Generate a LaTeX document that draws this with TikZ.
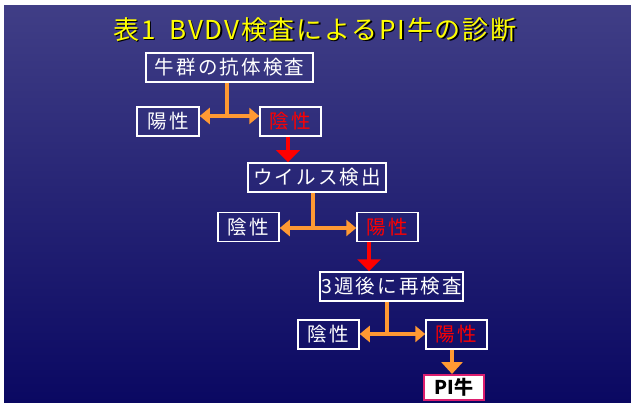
\documentclass[tikz,border=0pt]{standalone}
\usepackage{fontspec}
\setmainfont{Noto Sans CJK JP}
\newfontfamily\jpbox[LetterSpace=11]{Noto Sans CJK JP}
\newfontfamily\jptitle[LetterSpace=7]{Noto Sans CJK JP}
\usetikzlibrary{arrows.meta}
\definecolor{bgtop}{RGB}{64,62,134}
\definecolor{bgbot}{RGB}{10,8,98}
\definecolor{orarrow}{RGB}{255,153,51}
\definecolor{piborder}{RGB}{220,30,110}
\definecolor{titleyellow}{RGB}{255,255,0}
\tikzset{
  box/.style={draw=white, line width=1.5pt, inner sep=0pt, minimum height=29pt,
    text=white, font=\jpbox\fontsize{19.5}{19.5}\selectfont},
  redtext/.style={text=red},
  oline/.style={draw=orarrow, line width=3.5pt},
  oarrow/.style={oline, -{Triangle[width=16pt,length=10pt]}},
  obigarrow/.style={oline, -{Triangle[width=21pt,length=12pt]}},
  rarrow/.style={draw=red, line width=3.5pt, -{Triangle[width=23pt,length=12pt]}},
  titletext/.style={font=\jptitle\fontsize{26}{26}\selectfont, inner sep=0pt}
}
\begin{document}
\begin{tikzpicture}[x=1pt,y=-1pt]
\useasboundingbox (0,0) rectangle (631,403);
\fill[white] (0,0) rectangle (631,403);
\shade[top color=bgtop,bottom color=bgbot] (4,6) rectangle (631,402);

% title
\node[titletext, text=black] (titleshadow) at (316.5,31) {表1\hspace{6pt} BVDV検査によるPI牛の診断};
\node[titletext, text=titleyellow] (title) at (315,29.5) {表1\hspace{6pt} BVDV検査によるPI牛の診断};

% nodes
\node[box, minimum width=167pt] (b1) at (229.5,67.5) {牛群の抗体検査};
\node[box, minimum width=62pt] (p1) at (168,121.5) {陽性};
\node[box, redtext, minimum width=61pt] (n1) at (290.5,121.5) {陰性};
\node[box, minimum width=138pt] (b2) at (317,177.5) {ウイルス検出};
\node[box, minimum width=61pt] (n2) at (248.5,227) {陰性};
\node[box, redtext, minimum width=61pt] (p2) at (387.5,227) {陽性};
\node[box, minimum width=143pt] (b3) at (391.5,286.5) {3週後に再検査};
\node[box, minimum width=61pt] (n3) at (328.5,334.5) {陰性};
\node[box, redtext, minimum width=61pt] (p3) at (456.5,334.5) {陽性};
\node[draw=piborder, line width=2pt, fill=white, inner sep=0pt,
      minimum width=60pt, minimum height=25pt,
      font=\bfseries\fontsize{19}{19}\selectfont, text=black] (pi) at (454,387.5) {PI牛};

% level 1 connectors
\coordinate (j1) at (227,116);
\draw[oline] (b1.south -| j1) -- (j1);
\draw[oarrow] (j1) -- (p1.east |- j1);
\draw[oarrow] (j1) -- (n1.west |- j1);
\coordinate (r1) at (288,0);
\draw[rarrow] (n1.south -| r1) -- (b2.north -| r1);

% level 2 connectors
\coordinate (j2) at (313,228);
\draw[oline] (b2.south -| j2) -- (j2);
\draw[oarrow] (j2) -- (n2.east |- j2);
\draw[oarrow] (j2) -- (p2.west |- j2);
\coordinate (r2) at (369,0);
\draw[rarrow] (p2.south -| r2) -- (b3.north -| r2);

% level 3 connectors
\coordinate (j3) at (387,334);
\draw[oline] (b3.south -| j3) -- (j3);
\draw[oarrow] (j3) -- (n3.east |- j3);
\draw[oarrow] (j3) -- (p3.west |- j3);
\coordinate (r3) at (452,0);
\draw[obigarrow] (p3.south -| r3) -- (pi.north -| r3);
\end{tikzpicture}
\end{document}
